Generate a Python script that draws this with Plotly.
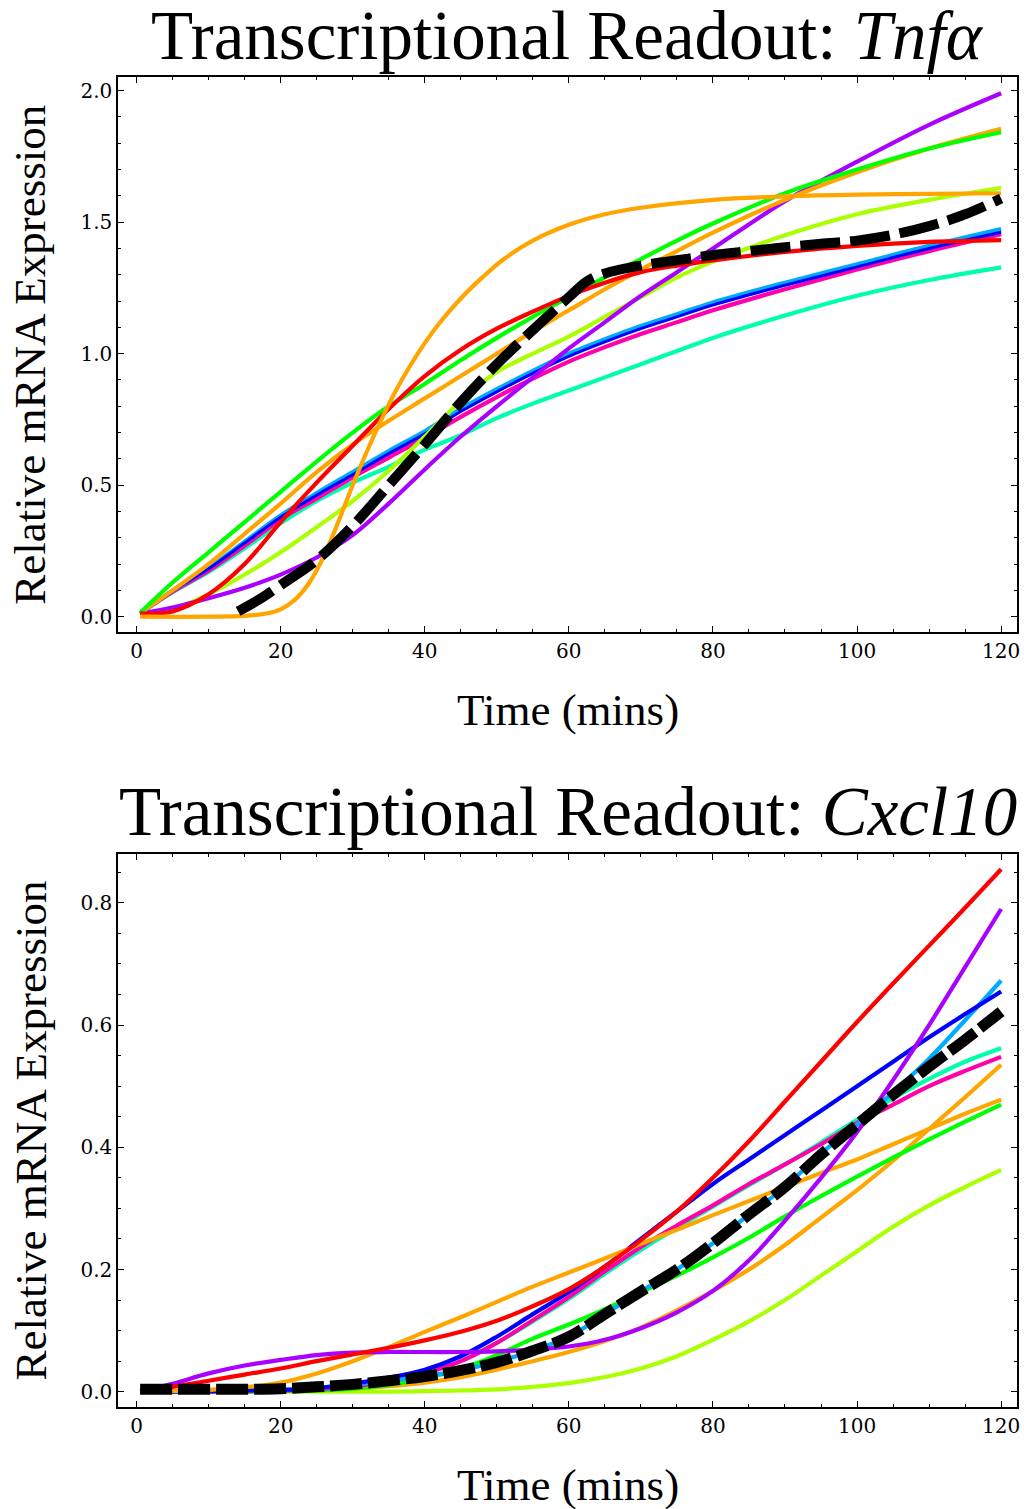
import plotly.graph_objects as go

# ---------------- data ----------------
TIME_TICKS = [0, 20, 40, 60, 80, 100, 120]
TNF_TICKS = [0.0, 0.5, 1.0, 1.5, 2.0]
CXCL_TICKS = [0.0, 0.2, 0.4, 0.6, 0.8]

# --- Tnf-alpha panel ---
tnf_t = [0.5, 5, 10, 15, 20, 25, 30, 35, 40, 45, 50, 55, 60, 65, 70, 75, 80, 90, 100, 110, 120]
tnf_aqua = [0.013, 0.093, 0.17, 0.26, 0.355, 0.44, 0.51, 0.57, 0.635, 0.69, 0.755, 0.81, 0.86, 0.91, 0.96, 1.01, 1.06, 1.145, 1.22, 1.28, 1.328]
tnf_pink = [0.013, 0.095, 0.175, 0.27, 0.37, 0.45, 0.53, 0.605, 0.68, 0.76, 0.835, 0.905, 0.97, 1.025, 1.075, 1.12, 1.165, 1.245, 1.32, 1.39, 1.454]
tnf_blue = [0.013, 0.098, 0.182, 0.28, 0.378, 0.462, 0.54, 0.62, 0.695, 0.78, 0.855, 0.925, 0.99, 1.045, 1.095, 1.14, 1.185, 1.26, 1.33, 1.40, 1.462]
tnf_lightblue = [0.013, 0.10, 0.185, 0.285, 0.385, 0.47, 0.55, 0.63, 0.705, 0.79, 0.865, 0.935, 1.0, 1.055, 1.105, 1.15, 1.195, 1.27, 1.34, 1.41, 1.474]
tnf_purple = [0.013, 0.035, 0.07, 0.11, 0.16, 0.225, 0.31, 0.43, 0.56, 0.685, 0.80, 0.91, 1.02, 1.12, 1.22, 1.31, 1.40, 1.58, 1.73, 1.87, 1.99]
tnf_yellowgreen = [0.013, 0.03, 0.085, 0.16, 0.245, 0.34, 0.44, 0.555, 0.685, 0.82, 0.93, 1.0, 1.065, 1.14, 1.215, 1.29, 1.35, 1.45, 1.53, 1.585, 1.63]
tnf_green = [0.015, 0.13, 0.245, 0.36, 0.475, 0.59, 0.70, 0.80, 0.885, 0.975, 1.06, 1.14, 1.215, 1.29, 1.36, 1.43, 1.495, 1.61, 1.70, 1.78, 1.842]
tnf_orange2 = [0.013, 0.10, 0.20, 0.315, 0.43, 0.55, 0.655, 0.745, 0.83, 0.915, 1.0, 1.085, 1.165, 1.245, 1.32, 1.39, 1.46, 1.585, 1.69, 1.78, 1.855]
tnf_red = [0.013, 0.02, 0.085, 0.2, 0.36, 0.51, 0.65, 0.79, 0.915, 1.015, 1.095, 1.16, 1.22, 1.27, 1.31, 1.335, 1.355, 1.387, 1.41, 1.425, 1.432]

tnf_orange_t = [0.5, 10, 15, 18, 20, 22, 24, 26, 28, 30, 32, 34, 36, 38, 40, 42, 45, 48, 51, 55, 60, 65, 70, 80, 90, 100, 110, 120]
tnf_orange = [0, 0, 0.003, 0.012, 0.028, 0.065, 0.13, 0.23, 0.36, 0.50, 0.63, 0.75, 0.86, 0.955, 1.04, 1.115, 1.21, 1.29, 1.36, 1.43, 1.49, 1.53, 1.555, 1.585, 1.598, 1.605, 1.608, 1.61]

tnf_mean_t = [14.1, 17, 20, 25, 30, 35, 40, 45, 50, 55, 60, 62.5, 65, 70, 75, 80, 85, 90, 95, 100, 105, 110, 115, 120]
tnf_mean = [0.02, 0.065, 0.12, 0.215, 0.345, 0.50, 0.655, 0.815, 0.96, 1.09, 1.215, 1.275, 1.305, 1.335, 1.355, 1.375, 1.39, 1.405, 1.418, 1.43, 1.452, 1.485, 1.53, 1.59]

# --- Cxcl10 panel ---
cx_t = [0.5, 5, 10, 15, 20, 25, 30, 35, 40, 45, 50, 55, 60, 65, 70, 75, 80, 85, 90, 95, 100, 105, 110, 115, 120]
cx_yellowgreen = [0, 0, 0, 0, 0, 0, 0, 0.0, 0.001, 0.002, 0.004, 0.008, 0.014, 0.024, 0.038, 0.058, 0.085, 0.115, 0.15, 0.19, 0.23, 0.27, 0.305, 0.335, 0.363]
cx_orange = [0.0, 0.0, 0.0, 0.0, 0.001, 0.003, 0.005, 0.009, 0.015, 0.024, 0.036, 0.05, 0.065, 0.083, 0.105, 0.133, 0.165, 0.2, 0.24, 0.285, 0.33, 0.378, 0.43, 0.482, 0.535]
cx_green = [0.0, 0.0, 0.0, 0.0, 0.001, 0.002, 0.005, 0.011, 0.022, 0.037, 0.06, 0.087, 0.11, 0.135, 0.163, 0.19, 0.22, 0.252, 0.287, 0.32, 0.352, 0.383, 0.413, 0.442, 0.47]
cx_aqua = [0.0, 0.0, 0.0, 0.001, 0.002, 0.004, 0.009, 0.017, 0.03, 0.05, 0.08, 0.115, 0.152, 0.193, 0.232, 0.268, 0.303, 0.338, 0.372, 0.408, 0.445, 0.48, 0.512, 0.54, 0.562]
cx_pink = [0.0, 0.0, 0.0, 0.001, 0.002, 0.004, 0.009, 0.017, 0.03, 0.05, 0.08, 0.117, 0.155, 0.197, 0.237, 0.272, 0.305, 0.34, 0.372, 0.405, 0.44, 0.47, 0.5, 0.525, 0.548]
cx_lightblue = [0.0, 0.0, 0.001, 0.002, 0.003, 0.006, 0.012, 0.018, 0.025, 0.035, 0.049, 0.067, 0.09, 0.127, 0.164, 0.2, 0.243, 0.29, 0.335, 0.39, 0.437, 0.49, 0.545, 0.608, 0.673]
cx_blue = [0.0, 0.0, 0.001, 0.002, 0.003, 0.006, 0.013, 0.023, 0.036, 0.058, 0.09, 0.127, 0.163, 0.205, 0.25, 0.295, 0.34, 0.38, 0.42, 0.46, 0.50, 0.54, 0.58, 0.618, 0.655]
cx_orange2 = [0.0, 0.001, 0.003, 0.007, 0.015, 0.03, 0.05, 0.073, 0.098, 0.122, 0.147, 0.172, 0.195, 0.218, 0.242, 0.265, 0.289, 0.312, 0.335, 0.358, 0.38, 0.405, 0.43, 0.455, 0.478]
cx_purple = [0.001, 0.013, 0.03, 0.043, 0.052, 0.06, 0.064, 0.065, 0.065, 0.065, 0.066, 0.069, 0.074, 0.085, 0.104, 0.13, 0.165, 0.215, 0.28, 0.35, 0.425, 0.51, 0.60, 0.695, 0.79]
cx_red = [0.001, 0.008, 0.018, 0.028, 0.038, 0.05, 0.061, 0.072, 0.084, 0.098, 0.116, 0.14, 0.168, 0.205, 0.248, 0.295, 0.35, 0.41, 0.475, 0.54, 0.605, 0.668, 0.73, 0.792, 0.855]
cx_mean = [0.004, 0.004, 0.004, 0.004, 0.005, 0.008, 0.012, 0.018, 0.025, 0.035, 0.048, 0.067, 0.09, 0.127, 0.164, 0.2, 0.243, 0.29, 0.335, 0.388, 0.437, 0.486, 0.532, 0.576, 0.622]

# ---------------- styling ----------------
C = dict(red="#FF0000", orange="#FFA500", yellowgreen="#AAFF00", green="#00FF00",
         aqua="#00FFAA", lightblue="#00AAFF", blue="#0000FF", purple="#AA00FF",
         pink="#FF00AA", black="#000000")

W, H = 1024, 1509
PX_L, PX_R = 118.3, 1017.0
TOP_T, TOP_B = 77.0, 632.3
BOT_T, BOT_B = 854.0, 1407.0


def px_x(p):
    return p / W


def px_y(p):
    return 1 - p / H


fig = go.Figure()


def add_line(t, v, color, axis, width=4.2, dash=None):
    xa, ya = axis
    line = dict(color=color, width=width, shape="spline", smoothing=1.0)
    if dash:
        line["dash"] = dash
    fig.add_trace(go.Scatter(x=t, y=v, mode="lines", line=line, xaxis=xa, yaxis=ya,
                             showlegend=False, hoverinfo="skip"))


top = ("x", "y")
bot = ("x2", "y2")

add_line(tnf_t, tnf_aqua, C["aqua"], top)
add_line(tnf_t, tnf_pink, C["pink"], top)
add_line(tnf_t, tnf_lightblue, C["lightblue"], top)
add_line(tnf_t, tnf_blue, C["blue"], top, width=3)
add_line(tnf_t, tnf_yellowgreen, C["yellowgreen"], top)
add_line(tnf_t, tnf_purple, C["purple"], top)
add_line(tnf_t, tnf_orange2, C["orange"], top)
add_line(tnf_t, tnf_green, C["green"], top)
add_line(tnf_t, tnf_red, C["red"], top)
add_line(tnf_orange_t, tnf_orange, C["orange"], top)
add_line(tnf_mean_t, tnf_mean, C["black"], top, width=10, dash="40px,10px")

add_line(cx_t, cx_yellowgreen, C["yellowgreen"], bot)
add_line(cx_t, cx_orange, C["orange"], bot)
add_line(cx_t, cx_green, C["green"], bot)
add_line(cx_t, cx_aqua, C["aqua"], bot)
add_line(cx_t, cx_pink, C["pink"], bot)
add_line(cx_t, cx_lightblue, C["lightblue"], bot)
add_line(cx_t, cx_blue, C["blue"], bot)
add_line(cx_t, cx_orange2, C["orange"], bot)
add_line(cx_t, cx_purple, C["purple"], bot)
add_line(cx_t, cx_red, C["red"], bot)
add_line(cx_t, cx_mean, C["black"], bot, width=11, dash="32px,6px")

TICKFONT = dict(family="DejaVu Serif", size=20, color="black")
SERIF = "Liberation Serif, Times New Roman, serif"


def xaxis(anchor):
    return dict(anchor=anchor, range=[-2.53, 122.2], domain=[px_x(PX_L), px_x(PX_R)],
                tickmode="array", tickvals=TIME_TICKS, ticktext=[str(v) for v in TIME_TICKS],
                ticks="inside", ticklen=6, tickwidth=1.3, tickcolor="black",
                showline=True, linewidth=2, linecolor="black", mirror="ticks",
                showgrid=False, zeroline=False, tickfont=TICKFONT,
                minor=dict(dtick=5, tick0=0, ticks="inside", ticklen=3, tickwidth=1.1,
                           tickcolor="black", showgrid=False))


def yaxis(anchor, rng, dom, ticks, minor_dtick):
    return dict(anchor=anchor, range=rng, domain=dom,
                tickmode="array", tickvals=ticks, ticktext=[f"{v:.1f}" for v in ticks],
                ticks="inside", ticklen=6, tickwidth=1.3, tickcolor="black",
                showline=True, linewidth=2, linecolor="black", mirror="ticks",
                showgrid=False, zeroline=False, tickfont=TICKFONT,
                minor=dict(dtick=minor_dtick, tick0=0, ticks="inside", ticklen=3, tickwidth=1.1,
                           tickcolor="black", showgrid=False))


fig.update_layout(
    width=W, height=H, margin=dict(l=0, r=0, t=0, b=0),
    paper_bgcolor="white", plot_bgcolor="white", template="none",
    showlegend=False,
    xaxis=xaxis("y"),
    yaxis=yaxis("x", [-0.0593, 2.052], [px_y(TOP_B), px_y(TOP_T)], TNF_TICKS, 0.1),
    xaxis2=xaxis("y2"),
    yaxis2=yaxis("x2", [-0.025, 0.880], [px_y(BOT_B), px_y(BOT_T)], CXCL_TICKS, 0.05),
)

cx = px_x((PX_L + PX_R) / 2)
ann = [
    dict(text="Transcriptional Readout: <i>Tnfα</i>", x=cx, y=px_y(36), size=69),
    dict(text="Transcriptional Readout: <i>Cxcl10</i>", x=cx, y=px_y(812), size=69),
    dict(text="Time (mins)", x=cx, y=px_y(710), size=45),
    dict(text="Time (mins)", x=cx, y=px_y(1485), size=45),
]
annotations = []
for a in ann:
    annotations.append(dict(text=a["text"], x=a["x"], y=a["y"], xref="paper", yref="paper",
                            xanchor="center", yanchor="middle", showarrow=False,
                            font=dict(family=SERIF, size=a["size"], color="black")))
for yc in [(TOP_T + TOP_B) / 2, (BOT_T + BOT_B) / 2]:
    annotations.append(dict(text="Relative mRNA Expression", x=px_x(30), y=px_y(yc),
                            xref="paper", yref="paper", xanchor="center", yanchor="middle",
                            textangle=-90, showarrow=False,
                            font=dict(family=SERIF, size=45, color="black")))
fig.update_layout(annotations=annotations)

fig.write_html("out.html", config={"displayModeBar": False},
               post_script="document.body.style.margin='0';document.body.style.overflow='hidden';")
